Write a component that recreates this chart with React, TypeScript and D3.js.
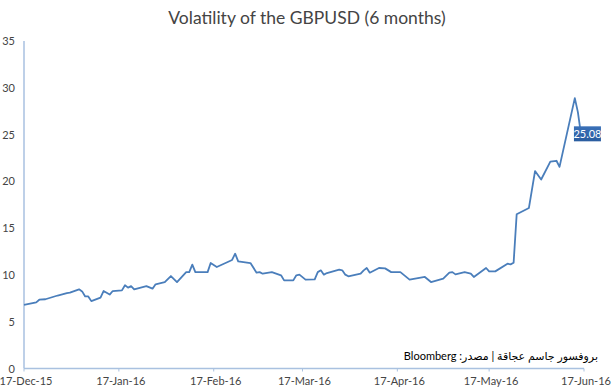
import React from "react";
import * as d3 from "d3";

// GBPUSD 6-month volatility, vertices
const dates = [
  "2015-12-17", "2015-12-21", "2015-12-22", "2015-12-24", "2015-12-28", "2015-12-31",
  "2016-01-01", "2016-01-04", "2016-01-05", "2016-01-06", "2016-01-07", "2016-01-08",
  "2016-01-11", "2016-01-12", "2016-01-14", "2016-01-15", "2016-01-18", "2016-01-19",
  "2016-01-20", "2016-01-21", "2016-01-22", "2016-01-26", "2016-01-28", "2016-01-29",
  "2016-02-01", "2016-02-03", "2016-02-05", "2016-02-08", "2016-02-09", "2016-02-10",
  "2016-02-11", "2016-02-15", "2016-02-16", "2016-02-18", "2016-02-23", "2016-02-24",
  "2016-02-25", "2016-02-29", "2016-03-02", "2016-03-03", "2016-03-04", "2016-03-07",
  "2016-03-10", "2016-03-11", "2016-03-14", "2016-03-15", "2016-03-16", "2016-03-18",
  "2016-03-21", "2016-03-22", "2016-03-23", "2016-03-24", "2016-03-25", "2016-03-29",
  "2016-03-30", "2016-03-31", "2016-04-01", "2016-04-05", "2016-04-06", "2016-04-07",
  "2016-04-08", "2016-04-11", "2016-04-13", "2016-04-15", "2016-04-18", "2016-04-21",
  "2016-04-26", "2016-04-28", "2016-05-02", "2016-05-04", "2016-05-05", "2016-05-06",
  "2016-05-09", "2016-05-11", "2016-05-12", "2016-05-16", "2016-05-17", "2016-05-19",
  "2016-05-23", "2016-05-24", "2016-05-25", "2016-05-26", "2016-05-30", "2016-06-01",
  "2016-06-03", "2016-06-06", "2016-06-08", "2016-06-09", "2016-06-14", "2016-06-15",
  "2016-06-16",
];
const vols = [
  6.8, 7.07, 7.35, 7.4, 7.8, 8.06,
  8.1, 8.46, 8.24, 7.7, 7.7, 7.2,
  7.57, 8.28, 7.9, 8.28, 8.35, 8.9,
  8.64, 8.8, 8.46, 8.8, 8.53, 9.0,
  9.24, 9.88, 9.24, 10.3, 10.3, 11.1,
  10.3, 10.3, 11.27, 10.85, 11.6, 12.27,
  11.45, 11.27, 10.24, 10.3, 10.13, 10.3,
  9.96, 9.42, 9.42, 9.96, 10.03, 9.5,
  9.53, 10.3, 10.49, 10.03, 10.2, 10.56,
  10.49, 10.03, 9.85, 10.13, 10.49, 10.74,
  10.24, 10.74, 10.7, 10.3, 10.3, 9.5,
  9.78, 9.24, 9.6, 10.24, 10.3, 10.06,
  10.3, 10.13, 9.78, 10.74, 10.38, 10.38,
  11.2, 11.13, 11.3, 16.49, 17.16, 21.1,
  20.2, 22.1, 22.2, 21.55, 28.9, 27.4,
  25.08,
];

const yTicks = [0, 5, 10, 15, 20, 25, 30, 35];
const xTicks = ["2015-12-17", "2016-01-17", "2016-02-17", "2016-03-17", "2016-04-17", "2016-05-17", "2016-06-17"];

const title = "Volatility of the GBPUSD (6 months)";
const source = "بروفسور جاسم عجاقة | مصدر: Bloomberg";

const W = 613, H = 392;
const parse = d3.timeParse("%Y-%m-%d");
const fmt = d3.timeFormat("%d-%b-%y");

export default function App() {
  const points = dates.map((d, i) => ({ date: parse(d) as Date, v: vols[i] }));
  const tickDates = xTicks.map(d => parse(d) as Date);

  const x = d3.scaleTime()
    .domain([tickDates[0], tickDates[tickDates.length - 1]])
    .range([24, 584]);
  const y = d3.scaleLinear().domain([0, 35]).range([368.5, 41]);

  const line = d3.line<{ date: Date; v: number }>()
    .x(d => x(d.date))
    .y(d => y(d.v));

  const last = points[points.length - 1];
  const lx = x(last.date), ly = y(last.v);
  const font = "Lato, 'DejaVu Sans', sans-serif";
  const axisColor = "#a9c1e0";

  return (
    <svg width={W} height={H} style={{ position: "absolute", left: 0, top: 0, background: "#fff" }}>
      <defs>
        <linearGradient id="lab" x1="0" x2="0" y1="0" y2="1">
          <stop offset="0" stopColor="#3a70b8" />
          <stop offset="1" stopColor="#2a5d9f" />
        </linearGradient>
      </defs>
      <text x={307} y={24} textAnchor="middle" fontFamily={font} fontSize={17.5} fill="#444">
        {title}
      </text>

      {yTicks.map(t => (
        <text key={t} x={15} y={y(t) + 4} textAnchor="end" fontFamily={font} fontSize={11} fill="#444">
          {t}
        </text>
      ))}
      <line x1={24} x2={24} y1={y(35)} y2={y(0)} stroke={axisColor} strokeWidth={1.5} />
      <line x1={24} x2={x(tickDates[tickDates.length - 1])} y1={y(0)} y2={y(0)} stroke={axisColor} strokeWidth={1.5} />

      {tickDates.map((d, i) => (
        <g key={i}>
          <line x1={x(d)} x2={x(d)} y1={y(0)} y2={y(0) + 3} stroke={axisColor} strokeWidth={1} />
          <text x={x(d) + 2} y={385} textAnchor="middle" fontFamily={font} fontSize={11} fill="#444">
            {fmt(d)}
          </text>
        </g>
      ))}

      <path d={line(points) || ""} fill="none" stroke="#4a7ebb" strokeWidth={1.8} strokeLinejoin="round" />

      <rect x={lx - 7} y={ly - 7.5} width={27} height={15} fill="url(#lab)" />
      <text x={lx + 6.5} y={ly + 4} textAnchor="middle" fontFamily={font} fontSize={11} fill="#fff">
        {last.v.toFixed(2)}
      </text>

      <text x={598} y={360} direction="rtl" textAnchor="start" fontFamily={font} fontSize={11} fill="#000"
        style={{ direction: "rtl", unicodeBidi: "embed" }}>
        {source}
      </text>
    </svg>
  );
}
